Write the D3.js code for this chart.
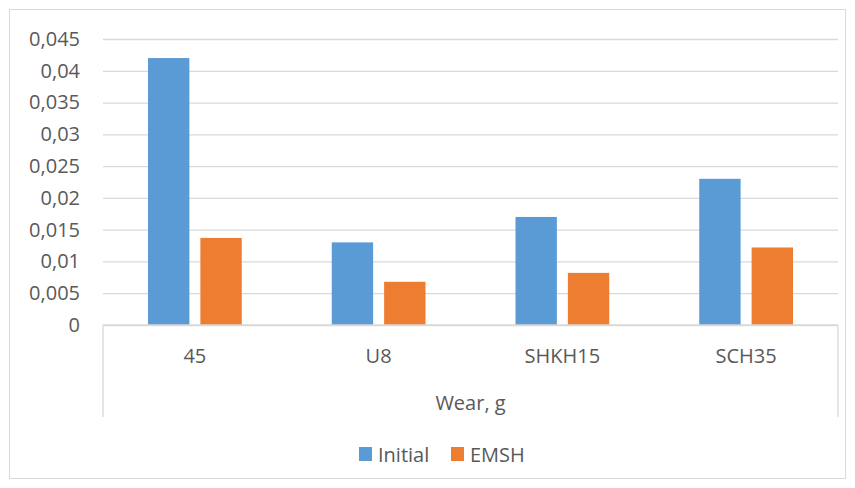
<!DOCTYPE html>
<html>
<head>
<meta charset="utf-8">
<script src="https://cdn.jsdelivr.net/npm/d3@7"></script>
<style>
  body { margin: 0; background: #fff; }
  text { font-family: "Open Sans", Lato, sans-serif; fill: #595959; }
</style>
</head>
<body>
<div id="vis-container"></div>
<script>
// data
const categories = ["45", "U8", "SHKH15", "SCH35"];
const seriesNames = ["Initial", "EMSH"];
const initialVals = [0.042, 0.013, 0.017, 0.023];
const emshVals = [0.0137, 0.0068, 0.0082, 0.0122];
const yTicks = [0, 0.005, 0.01, 0.015, 0.02, 0.025, 0.03, 0.035, 0.04, 0.045];
const axisTitle = "Wear, g";

const width = 855;
const height = 488;
const margin = { top: 39, right: 17, bottom: 163, left: 103 };
const fontSize = "20px";

const color = d3.scaleOrdinal()
                .domain(seriesNames)
                .range(["#5b9bd5", "#ed7d31"]);

const svg = d3.select("#vis-container")
              .append("svg")
              .attr("width", width)
              .attr("height", height);

// chart border
svg.append("rect")
   .attr("x", 9.5).attr("y", 9.5)
   .attr("width", 836).attr("height", 469)
   .attr("fill", "none")
   .attr("stroke", "#d9d9d9");

let x = d3.scaleBand()
          .domain(categories)
          .range([margin.left, width - margin.right]);

let x1 = d3.scaleBand()
           .domain(seriesNames)
           .range([45, x.bandwidth() - 45])
           .paddingInner(0.21);

let y = d3.scaleLinear()
          .domain([0, 0.045])
          .range([height - margin.bottom, margin.top]);

const fmt = d => d3.format("")(+d.toFixed(3)).replace(".", ",");

// gridlines + y labels
let yAxis = svg.append("g")
   .attr("transform", `translate(${margin.left},0)`)
   .call(d3.axisLeft(y).tickValues(yTicks).tickSize(-(width - margin.left - margin.right)).tickPadding(23).tickFormat(fmt));
yAxis.select(".domain").remove();
yAxis.selectAll("line").attr("stroke", "#d9d9d9").attr("stroke-width", 1.3);
yAxis.selectAll("text").attr("font-size", fontSize).style("font-family", "'Open Sans', Lato, sans-serif");

// bars
let rows = categories.map((c, i) => ({ cat: c, vals: [initialVals[i], emshVals[i]] }));
svg.append("g").selectAll("g")
   .data(rows)
   .join("g")
   .attr("transform", d => `translate(${x(d.cat)},0)`)
   .selectAll("rect")
   .data(d => d.vals.map((v, j) => ({ name: seriesNames[j], v: v })))
   .join("rect")
   .attr("x", d => x1(d.name))
   .attr("y", d => y(d.v))
   .attr("width", x1.bandwidth())
   .attr("height", d => y(0) - y(d.v))
   .attr("fill", d => color(d.name));

// category axis box
const yb = y(0);
const axisG = svg.append("g").attr("stroke", "#d9d9d9").attr("stroke-width", 1.3);
axisG.append("line").attr("x1", margin.left).attr("x2", width - margin.right).attr("y1", yb).attr("y2", yb);
axisG.append("line").attr("x1", margin.left).attr("x2", margin.left).attr("y1", yb).attr("y2", 417);
axisG.append("line").attr("x1", width - margin.right).attr("x2", width - margin.right).attr("y1", yb).attr("y2", 417);

svg.append("g").selectAll("text")
   .data(categories)
   .join("text")
   .attr("x", d => x(d) + x.bandwidth() / 2)
   .attr("y", 363)
   .attr("text-anchor", "middle")
   .attr("font-size", fontSize)
   .text(d => d);

svg.append("text")
   .attr("x", (margin.left + width - margin.right) / 2)
   .attr("y", 410)
   .attr("text-anchor", "middle")
   .attr("font-size", fontSize)
   .text(axisTitle);

// legend
let legendX = [359, 451];
let legend = svg.append("g").selectAll("g")
   .data(seriesNames)
   .join("g")
   .attr("transform", (d, i) => `translate(${legendX[i]},447)`);
legend.append("rect").attr("width", 13).attr("height", 14).attr("fill", d => color(d));
legend.append("text").attr("x", 19).attr("y", 14.5).attr("font-size", fontSize).text(d => d);
</script>
</body>
</html>
